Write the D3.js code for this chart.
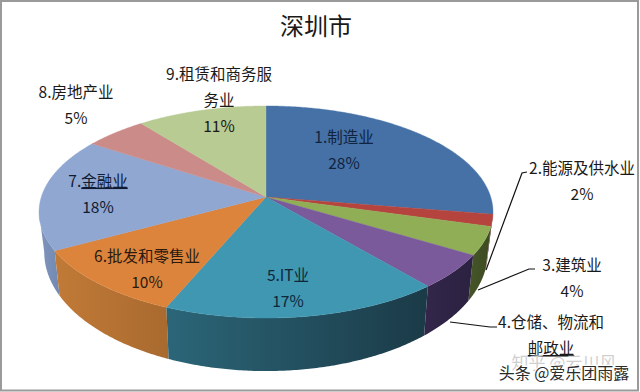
<!DOCTYPE html>
<html><head><meta charset="utf-8">
<script src="https://cdn.jsdelivr.net/npm/d3@7/dist/d3.min.js"></script>
<style>html,body{margin:0;padding:0;background:#fff}svg{display:block}</style>
</head><body><svg id="c" width="640" height="392"></svg>
<script>
const categories=["1.制造业","2.能源及供水业","3.建筑业","4.仓储、物流和邮政业","5.IT业","6.批发和零售业","7.金融业","8.房地产业","9.租赁和商务服务业"];
const values=[27.6,1.8,4.3,5.2,17.4,10.7,17.3,5.1,10.6];
const percentLabels=["28%","2%","4%","5%","17%","10%","18%","5%","11%"];
const topColors=["#4571a6","#b5443f","#8fae55","#7a5a9b","#3f97b2","#dd843c","#8fa7d1","#cb8b89","#b7cb93"];
const sideLeft=["#2c4568","#7a2d2a","#46562a","#33264a","#2b6678","#c17a37","#8095be","#8095be","#8095be"];
const sideRight=["#2c4568","#6a2724","#3b4a1f","#2b2140","#1b3a47","#a96a2f","#7189b0","#7189b0","#7189b0"];
const svg=d3.select("#c");
const W=640,H=392;
svg.append("rect").attr("x",1).attr("y",1).attr("width",W-3).attr("height",H-2.5).attr("fill","#fff").attr("stroke","#9a9a9a").attr("stroke-width",2);
const cx=266,cy=197,A=224.7,B=103.9,k=0.1415;
function topPt(t){const u=Math.sin(t),v=Math.cos(t),w=1+k*v;return [cx+A*u/w,cy-B*v/w];}
function botPt(t){const p=topPt(t);return [cx+0.977*(p[0]-cx),296+1.12*(p[1]-251)];}
const pie=d3.pie().sort(null).value(d=>d)(values);
const line=d3.line();
const samples=(a,b)=>{const n=Math.max(2,Math.ceil((b-a)/0.01));return d3.range(n+1).map(i=>a+(b-a)*i/n);};
const visA=98.1*Math.PI/180,visB=261.9*Math.PI/180;
const defs=svg.append("defs");
const g=svg.append("g");
const order=d3.range(pie.length).filter(i=>pie[i].endAngle>visA&&pie[i].startAngle<visB);
const centerOf=i=>(Math.max(pie[i].startAngle,visA)+Math.min(pie[i].endAngle,visB))/2;
order.sort((a,b)=>Math.abs(centerOf(b)-Math.PI)-Math.abs(centerOf(a)-Math.PI));
order.forEach(i=>{
  const a=Math.max(pie[i].startAngle,visA),b=Math.min(pie[i].endAngle,visB);
  const ts=samples(a,b);
  const pts=ts.map(topPt).concat(ts.slice().reverse().map(botPt));
  const xs=d3.extent(pts,p=>p[0]);
  const id="side"+i;
  const gr=defs.append("linearGradient").attr("id",id).attr("gradientUnits","userSpaceOnUse")
    .attr("x1",xs[0]).attr("x2",xs[1]).attr("y1",0).attr("y2",0);
  gr.append("stop").attr("offset",0).attr("stop-color",sideLeft[i]);
  gr.append("stop").attr("offset",1).attr("stop-color",sideRight[i]);
  g.append("path").attr("d",line(pts)+"Z").attr("fill",`url(#${id})`);
});
pie.forEach((d,i)=>{
  const pts=[[cx,cy]].concat(samples(d.startAngle,d.endAngle).map(topPt));
  g.append("path").attr("d",line(pts)+"Z").attr("fill",topColors[i]).attr("stroke",topColors[i]).attr("stroke-width",0.4);
});
const leaders=[[[527,172],[522,173],[486,270]],[[535,269],[529,269],[478,290]],[[497,327],[490,327],[450,322]]];
const lg=svg.append("g").attr("fill","none").attr("stroke","#111").attr("stroke-width",1.2);
leaders.forEach(l=>lg.append("path").attr("d",line(l)));
const font='"Noto Sans CJK SC","Noto Sans",sans-serif';
svg.append("text").attr("x",316).attr("y",35).attr("text-anchor","middle").attr("font-family",font).attr("font-size",24).attr("fill","#1a1a1a").text("深圳市");
const labelLines=[[categories[0],percentLabels[0]],[categories[1],percentLabels[1]],[categories[2],percentLabels[2]],["4.仓储、物流和","邮政业"],[categories[4],percentLabels[4]],[categories[5],percentLabels[5]],[categories[6],percentLabels[6]],[categories[7],percentLabels[7]],["9.租赁和商务服","务业",percentLabels[8]]];
const labelPos=[[344,142.5],[582,174],[572,271],[551,328],[288,280.5],[147,261.5],[98,186.5],[76,98],[219,80]];
const ink=["#10233f","#1a1a1a","#1a1a1a","#1a1a1a","#10263a","#2a1a10","#101a30","#1a1a1a","#1a1a1a"];
const underlined=new Set(["邮政业"]);
labelLines.forEach((ls,i)=>ls.forEach((s,j)=>{
  const t=svg.append("text").attr("x",labelPos[i][0]).attr("y",labelPos[i][1]+j*26).attr("text-anchor","middle")
   .attr("font-family",font).attr("font-size",15.5).attr("fill",ink[i]);
  if(s==="7.金融业"){t.append("tspan").text("7.");t.append("tspan").attr("text-decoration","underline").text("金融业");}
  else if(underlined.has(s)){t.append("tspan").attr("text-decoration","underline").text(s);}
  else t.text(s);
}));
svg.append("text").attr("x",564).attr("y",369).attr("text-anchor","middle").attr("font-family",font).attr("font-size",17).attr("fill","#cfcfcf").text("知乎 @云川风");
svg.append("text").attr("x",564).attr("y",379).attr("text-anchor","middle").attr("font-family",font).attr("font-size",16).attr("fill","#2b2b2b").attr("stroke","#fff").attr("stroke-width",2.5).attr("paint-order","stroke").text("头条 @爱乐团雨露");
</script></body></html>
